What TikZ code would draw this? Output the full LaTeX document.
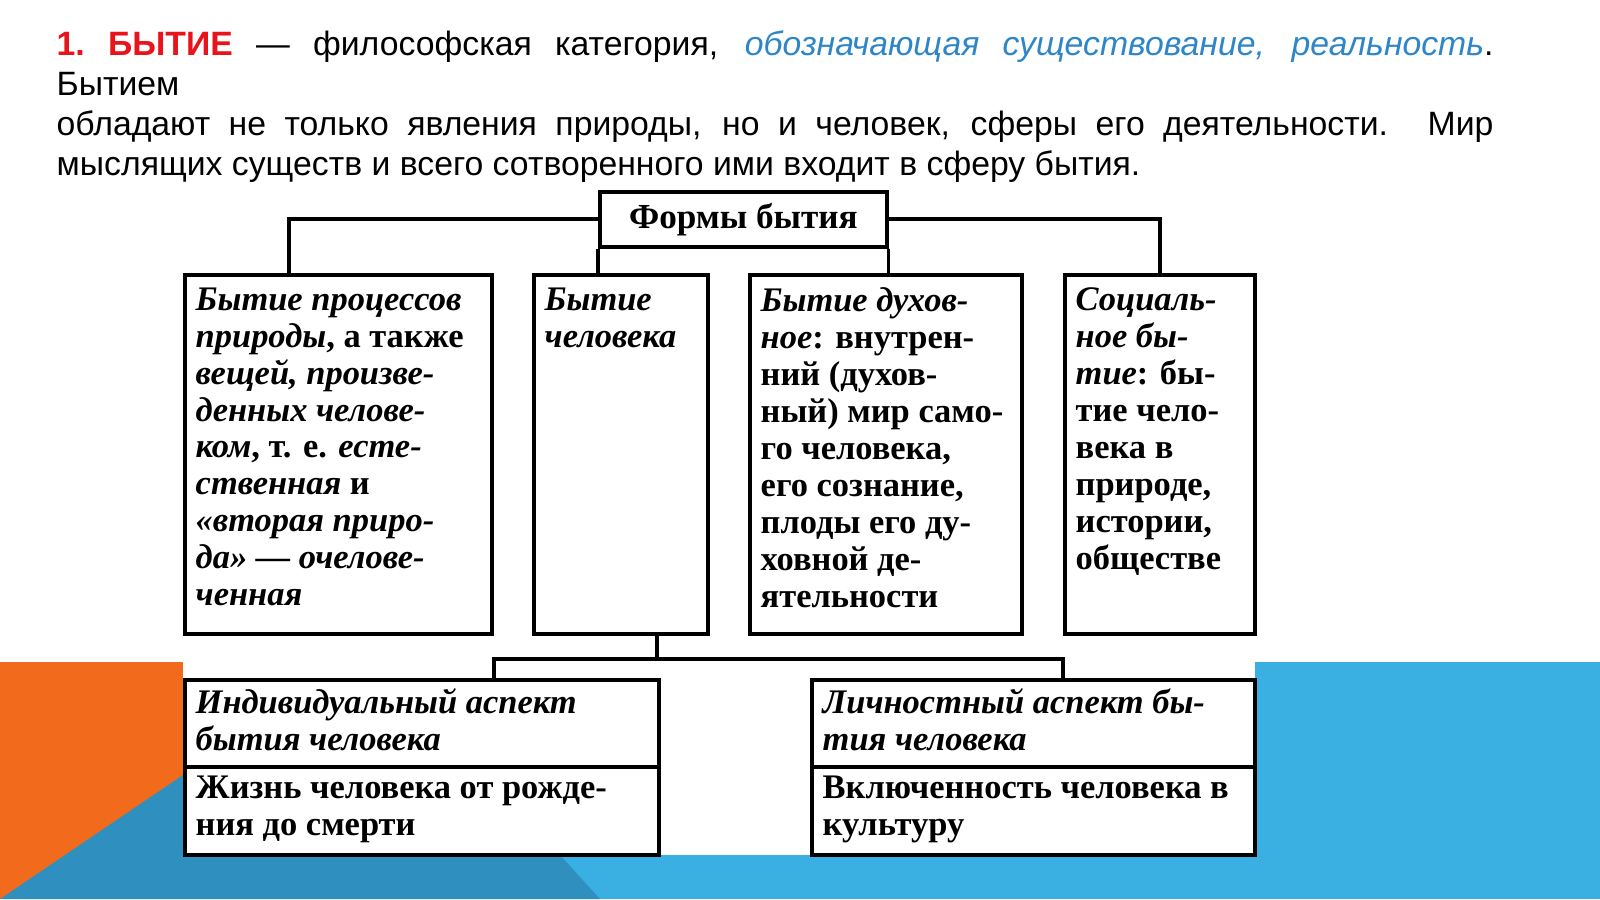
\documentclass[tikz,border=0pt]{standalone}
\usepackage{fontspec}
\setmainfont{Liberation Serif}
\newfontfamily\hdfont{Liberation Sans}
\usetikzlibrary{positioning}
\definecolor{hdred}{HTML}{E8141B}
\definecolor{hdblue}{HTML}{2E86C8}
\definecolor{bgorange}{HTML}{F26A1B}
\definecolor{bgblue}{HTML}{3AB0E2}
\definecolor{bgdark}{HTML}{2F8FBF}
\begin{document}
\begin{tikzpicture}[x=0.01cm,y=-0.01cm,
  box/.style={draw,line width=1pt,fill=white,anchor=north west,inner sep=0pt},
  txt/.style={anchor=north west,align=left,inner sep=0pt,font=\fontsize{9.8}{10.5}\selectfont\bfseries},
  link/.style={line width=1pt}]
  \useasboundingbox (0,0) rectangle (1600,899);
  % background
  \fill[bgorange] (0,662) rectangle (183,899);
  \fill[bgblue] (1255,662) rectangle (1600,899);
  \fill[bgblue] (183,855) rectangle (1255,899);
  \fill[bgdark] (0,899) -- (183,775) -- (183,855) -- (560,855) -- (600,899) -- cycle;
  % heading
  \node[anchor=north west,inner sep=0pt,text width=14.36cm,align=justify,
    font=\hdfont\fontsize{9.6}{11.4}\selectfont] (head) at (56,30)
    {{\color{hdred}\bfseries 1.~БЫТИЕ} — философская категория, {\color{hdblue}\itshape обозначающая существование, реальность}. Бытием\linebreak обладают не только явления природы, но и человек, сферы его деятельности. Мир\linebreak мыслящих существ и всего сотворенного ими входит в сферу бытия.};
  % boxes
  \node[box,minimum width=2.87cm,minimum height=0.55cm] (forms) at (598,190) {};
  \node[font=\fontsize{10}{11}\selectfont\bfseries] at (forms.center) {Формы бытия};
  \node[box,minimum width=3.07cm,minimum height=3.59cm] (nature) at (183,273) {};
  \node[box,minimum width=1.74cm,minimum height=3.59cm] (human) at (532,273) {};
  \node[box,minimum width=2.72cm,minimum height=3.59cm] (spirit) at (748,273) {};
  \node[box,minimum width=1.90cm,minimum height=3.59cm] (social) at (1063,273) {};
  \node[box,minimum width=4.74cm,minimum height=0.87cm] (indiv) at (183,678) {};
  \node[box,minimum width=4.74cm,minimum height=0.88cm] (life) at (183,765) {};
  \node[box,minimum width=4.43cm,minimum height=0.87cm] (person) at (810,678) {};
  \node[box,minimum width=4.43cm,minimum height=0.88cm] (culture) at (810,765) {};
  % texts
  \node[txt] at ([shift={(12,14)}]nature.north west)
    {\itshape Бытие процессов\\ \itshape природы\upshape, а также\\ \itshape вещей, произве-\\ \itshape денных челове-\\ \itshape ком\upshape, т. е. \itshape есте-\\ \itshape ственная \upshape и\\ \itshape «вторая приро-\\ \itshape да» — очелове-\\ \itshape ченная};
  \node[txt] at ([shift={(12,14)}]human.north west)
    {\itshape Бытие\\ \itshape человека};
  \node[txt] at ([shift={(12,14)}]spirit.north west)
    {\itshape Бытие духов-\\ \itshape ное\upshape: внутрен-\\ний (духов-\\ный) мир само-\\го человека,\\его сознание,\\плоды его ду-\\ховной де-\\ятельности};
  \node[txt] at ([shift={(12,14)}]social.north west)
    {\itshape Социаль-\\ \itshape ное бы-\\ \itshape тие\upshape: бы-\\тие чело-\\века в\\природе,\\истории,\\обществе};
  \node[txt] at ([shift={(12,10)}]indiv.north west)
    {\itshape Индивидуальный аспект\\ \itshape бытия человека};
  \node[txt] at ([shift={(12,10)}]life.north west)
    {Жизнь человека от рожде-\\ния до смерти};
  \node[txt] at ([shift={(12,10)}]person.north west)
    {\itshape Личностный аспект бы-\\ \itshape тия человека};
  \node[txt] at ([shift={(12,10)}]culture.north west)
    {Включенность человека в\\культуру};
  % connectors
  \coordinate (fl) at ([shift={(0,29)}]forms.north west);
  \coordinate (fr) at ([shift={(0,29)}]forms.north east);
  \draw[link] (fl) -| ([shift={(106,0)}]nature.north west);
  \draw[link] (fr) -| ([shift={(97,0)}]social.north west);
  \draw[link] (forms.south west) -- (forms.south west |- human.north);
  \draw[link] (forms.south east) -- (forms.south east |- spirit.north);
  \coordinate (hb) at ([shift={(125,0)}]human.south west);
  \coordinate (mid) at ([shift={(0,23)}]hb);
  \draw[link] (hb) -- (mid);
  \coordinate (bl) at ([shift={(-167,0)}]indiv.north east |- mid);
  \coordinate (br) at (social.south west |- mid);
  \draw[link] (bl |- indiv.north) -- (bl) -- (br) -- (br |- person.north);
\end{tikzpicture}
\end{document}
